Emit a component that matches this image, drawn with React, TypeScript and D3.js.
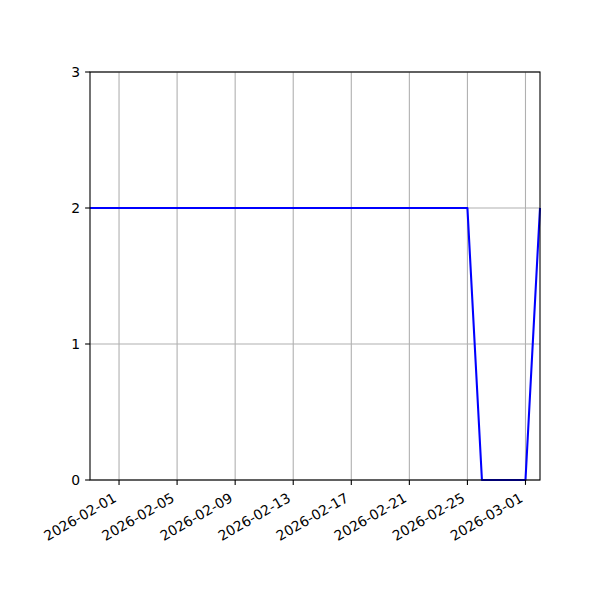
import { useEffect, useRef } from "react";
import * as d3 from "d3";

// daily values
const dates: string[] = [
  "2026-01-30", "2026-01-31", "2026-02-01", "2026-02-02", "2026-02-03",
  "2026-02-04", "2026-02-05", "2026-02-06", "2026-02-07", "2026-02-08",
  "2026-02-09", "2026-02-10", "2026-02-11", "2026-02-12", "2026-02-13",
  "2026-02-14", "2026-02-15", "2026-02-16", "2026-02-17", "2026-02-18",
  "2026-02-19", "2026-02-20", "2026-02-21", "2026-02-22", "2026-02-23",
  "2026-02-24", "2026-02-25", "2026-02-26", "2026-02-27", "2026-02-28",
  "2026-03-01", "2026-03-02",
];
const values: number[] = [
  2, 2, 2, 2, 2, 2, 2, 2, 2, 2,
  2, 2, 2, 2, 2, 2, 2, 2, 2, 2,
  2, 2, 2, 2, 2, 2, 2, 0, 0, 0,
  0, 2,
];
const xTickLabels: string[] = [
  "2026-02-01", "2026-02-05", "2026-02-09", "2026-02-13",
  "2026-02-17", "2026-02-21", "2026-02-25", "2026-03-01",
];
const yTicks: number[] = [0, 1, 2, 3];

const parse = d3.utcParse("%Y-%m-%d");

export default function App() {
  const svgRef = useRef<SVGSVGElement>(null);

  useEffect(() => {
    if (!svgRef.current) return;
    const svg = d3.select(svgRef.current);
    svg.selectAll("*").remove();

    const margin = { top: 72, right: 60, bottom: 120, left: 90 };
    const width = 600 - margin.left - margin.right;
    const height = 600 - margin.top - margin.bottom;
    const font = "DejaVu Sans, sans-serif";

    const data = dates.map((d, i) => ({ date: parse(d) as Date, value: values[i] }));

    const xScale = d3
      .scaleUtc()
      .domain(d3.extent(data, (d) => d.date) as [Date, Date])
      .range([0, width]);
    const yScale = d3.scaleLinear().domain([0, 3]).range([height, 0]);

    const g = svg
      .append("g")
      .attr("transform", `translate(${margin.left},${margin.top})`);

    // grid
    const xTickDates = xTickLabels.map((t) => parse(t) as Date);
    g.selectAll(".vgrid")
      .data(xTickDates)
      .enter()
      .append("line")
      .attr("x1", (d) => xScale(d))
      .attr("x2", (d) => xScale(d))
      .attr("y1", 0)
      .attr("y2", height)
      .attr("stroke", "#b0b0b0")
      .attr("stroke-width", 1.1);
    g.selectAll(".hgrid")
      .data(yTicks)
      .enter()
      .append("line")
      .attr("x1", 0)
      .attr("x2", width)
      .attr("y1", (d) => yScale(d))
      .attr("y2", (d) => yScale(d))
      .attr("stroke", "#b0b0b0")
      .attr("stroke-width", 1.1);

    // line
    const line = d3
      .line<{ date: Date; value: number }>()
      .x((d) => xScale(d.date))
      .y((d) => yScale(d.value));
    g.append("path")
      .datum(data)
      .attr("d", line)
      .attr("fill", "none")
      .attr("stroke", "#0000ff")
      .attr("stroke-width", 2.08)
      .attr("stroke-linejoin", "round");

    // spines
    g.append("rect")
      .attr("width", width)
      .attr("height", height)
      .attr("fill", "none")
      .attr("stroke", "#000")
      .attr("stroke-width", 1.1);

    // x ticks
    const xt = g
      .selectAll(".xtick")
      .data(xTickDates)
      .enter()
      .append("g")
      .attr("transform", (d) => `translate(${xScale(d)},${height})`);
    xt.append("line").attr("y2", 4.9).attr("stroke", "#000").attr("stroke-width", 1.1);
    xt.append("text")
      .attr("transform", "translate(0,9.8) rotate(-30)")
      .attr("x", -6.9)
      .attr("y", 8.7)
      .attr("text-anchor", "end")
      .style("font-family", font)
      .style("font-size", "13.9px")
      .style("fill", "#000")
      .text((d, i) => xTickLabels[i]);

    // y ticks
    const yt = g
      .selectAll(".ytick")
      .data(yTicks)
      .enter()
      .append("g")
      .attr("transform", (d) => `translate(0,${yScale(d)})`);
    yt.append("line").attr("x2", -4.9).attr("stroke", "#000").attr("stroke-width", 1.1);
    yt.append("text")
      .attr("x", -9.8)
      .attr("dy", "0.35em")
      .attr("text-anchor", "end")
      .style("font-family", font)
      .style("font-size", "13.9px")
      .style("fill", "#000")
      .text((d) => String(d));
  }, []);

  return (
    <svg
      ref={svgRef}
      width="600"
      height="600"
      style={{ position: "absolute", left: 0, top: 0, background: "#fff" }}
    />
  );
}
